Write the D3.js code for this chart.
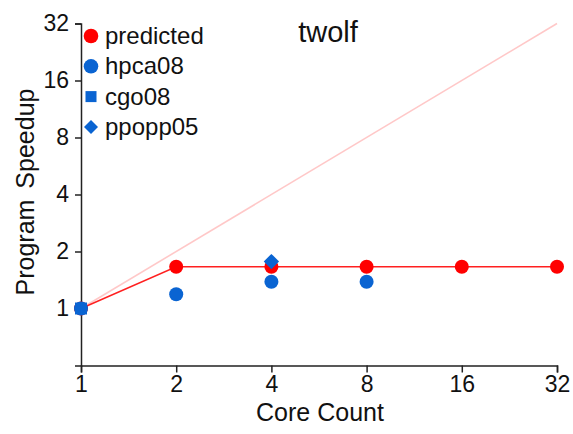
<!DOCTYPE html>
<html>
<head>
<meta charset="utf-8">
<script src="https://cdn.jsdelivr.net/npm/d3@7"></script>
<style>
  body { margin: 0; background: #fff; }
  text { font-family: "Liberation Sans", Arial, Helvetica, sans-serif; fill: #111; }
  .axis path, .axis line { stroke: #222; stroke-width: 1.5; }
</style>
</head>
<body>
<div id="chart"></div>
<script>
// data
var cores = [1, 2, 4, 8, 16, 32];
var predicted = [1, 1.66, 1.66, 1.66, 1.66, 1.66];
var hpcaCores = [1, 2, 4, 8];
var hpca08 = [1, 1.19, 1.385, 1.385];
var cgoCores = [1];
var cgo08 = [1];
var ppoppCores = [4];
var ppopp05 = [1.77];
var idealCores = [1, 32];
var ideal = [1, 32];
var yTicks = [1, 2, 4, 8, 16, 32];

var width = 573, height = 434;

var svg = d3.select("#chart").append("svg")
    .attr("width", width)
    .attr("height", height);

// log2 scales on both axes
var x = d3.scaleLog().base(2).domain([1, 32]).range([81, 557]);
var y = d3.scaleLog().base(2).domain([0.5, 32]).range([365.5, 23.5]);

// axes
svg.append("g")
    .attr("class", "axis")
    .attr("transform", "translate(0,365.5)")
    .call(d3.axisBottom(x).tickValues(cores).tickFormat(d3.format("d")).tickSizeOuter(0).tickSize(7).tickPadding(3))
    .selectAll("text").style("font-size", "23px").style("fill", "#111");

svg.append("g")
    .attr("class", "axis")
    .attr("transform", "translate(81,0)")
    .call(d3.axisLeft(y).tickValues(yTicks).tickFormat(d3.format("d")).tickSizeOuter(0).tickSize(6).tickPadding(6))
    .selectAll("text").style("font-size", "23px").style("fill", "#111");

// axis labels
svg.append("text")
    .attr("x", 320)
    .attr("y", 421)
    .attr("text-anchor", "middle")
    .style("font-size", "25px")
    .text("Core Count");

svg.append("text")
    .attr("transform", "translate(34,192) rotate(-90)")
    .attr("text-anchor", "middle")
    .style("font-size", "25px")
    .style("word-spacing", "4px")
    .text("Program Speedup");

// title
svg.append("text")
    .attr("x", 328)
    .attr("y", 42)
    .attr("text-anchor", "middle")
    .style("font-size", "29px")
    .text("twolf");

var line = d3.line()
    .x(function(d) { return x(d[0]); })
    .y(function(d) { return y(d[1]); });

// ideal speedup line
svg.append("path")
    .datum(d3.zip(idealCores, ideal))
    .attr("fill", "none")
    .attr("stroke", "#ffc8c8")
    .attr("stroke-width", 1.6)
    .attr("d", line);

// predicted line
svg.append("path")
    .datum(d3.zip(cores, predicted))
    .attr("fill", "none")
    .attr("stroke", "#ff2020")
    .attr("stroke-width", 1.5)
    .attr("d", line);

var red = "#ff0000", blue = "#0a64d2";

// predicted points
svg.selectAll(".pred")
    .data(d3.zip(cores, predicted))
    .enter().append("circle")
    .attr("cx", function(d) { return x(d[0]); })
    .attr("cy", function(d) { return y(d[1]); })
    .attr("r", 7)
    .attr("fill", red);

// cgo08 squares
svg.selectAll(".cgo")
    .data(d3.zip(cgoCores, cgo08))
    .enter().append("rect")
    .attr("x", function(d) { return x(d[0]) - 6; })
    .attr("y", function(d) { return y(d[1]) - 6; })
    .attr("width", 12)
    .attr("height", 12)
    .attr("fill", blue);

// hpca08 circles
svg.selectAll(".hpca")
    .data(d3.zip(hpcaCores, hpca08))
    .enter().append("circle")
    .attr("cx", function(d) { return x(d[0]); })
    .attr("cy", function(d) { return y(d[1]); })
    .attr("r", 7)
    .attr("fill", blue);

// ppopp05 diamonds
var diamond = d3.symbol().type(d3.symbolDiamond2).size(150);
svg.selectAll(".ppopp")
    .data(d3.zip(ppoppCores, ppopp05))
    .enter().append("path")
    .attr("d", diamond)
    .attr("transform", function(d) { return "translate(" + x(d[0]) + "," + y(d[1]) + ")"; })
    .attr("fill", blue);

// legend
var legend = [
  {name: "predicted", shape: "circle", color: red},
  {name: "hpca08", shape: "circle", color: blue},
  {name: "cgo08", shape: "square", color: blue},
  {name: "ppopp05", shape: "diamond", color: blue}
];

var lg = svg.append("g").attr("transform", "translate(91,36)");
legend.forEach(function(d, i) {
  var row = lg.append("g").attr("transform", "translate(0," + (i * 30.3) + ")");
  if (d.shape === "circle") {
    row.append("circle").attr("r", 7.3).attr("fill", d.color);
  } else if (d.shape === "square") {
    row.append("rect").attr("x", -5.5).attr("y", -5.5).attr("width", 11).attr("height", 11).attr("fill", d.color);
  } else {
    row.append("path").attr("d", d3.symbol().type(d3.symbolDiamond2).size(125)).attr("fill", d.color);
  }
  row.append("text")
      .attr("x", 14)
      .attr("y", 8)
      .style("font-size", "24px")
      .text(d.name);
});
</script>
</body>
</html>
